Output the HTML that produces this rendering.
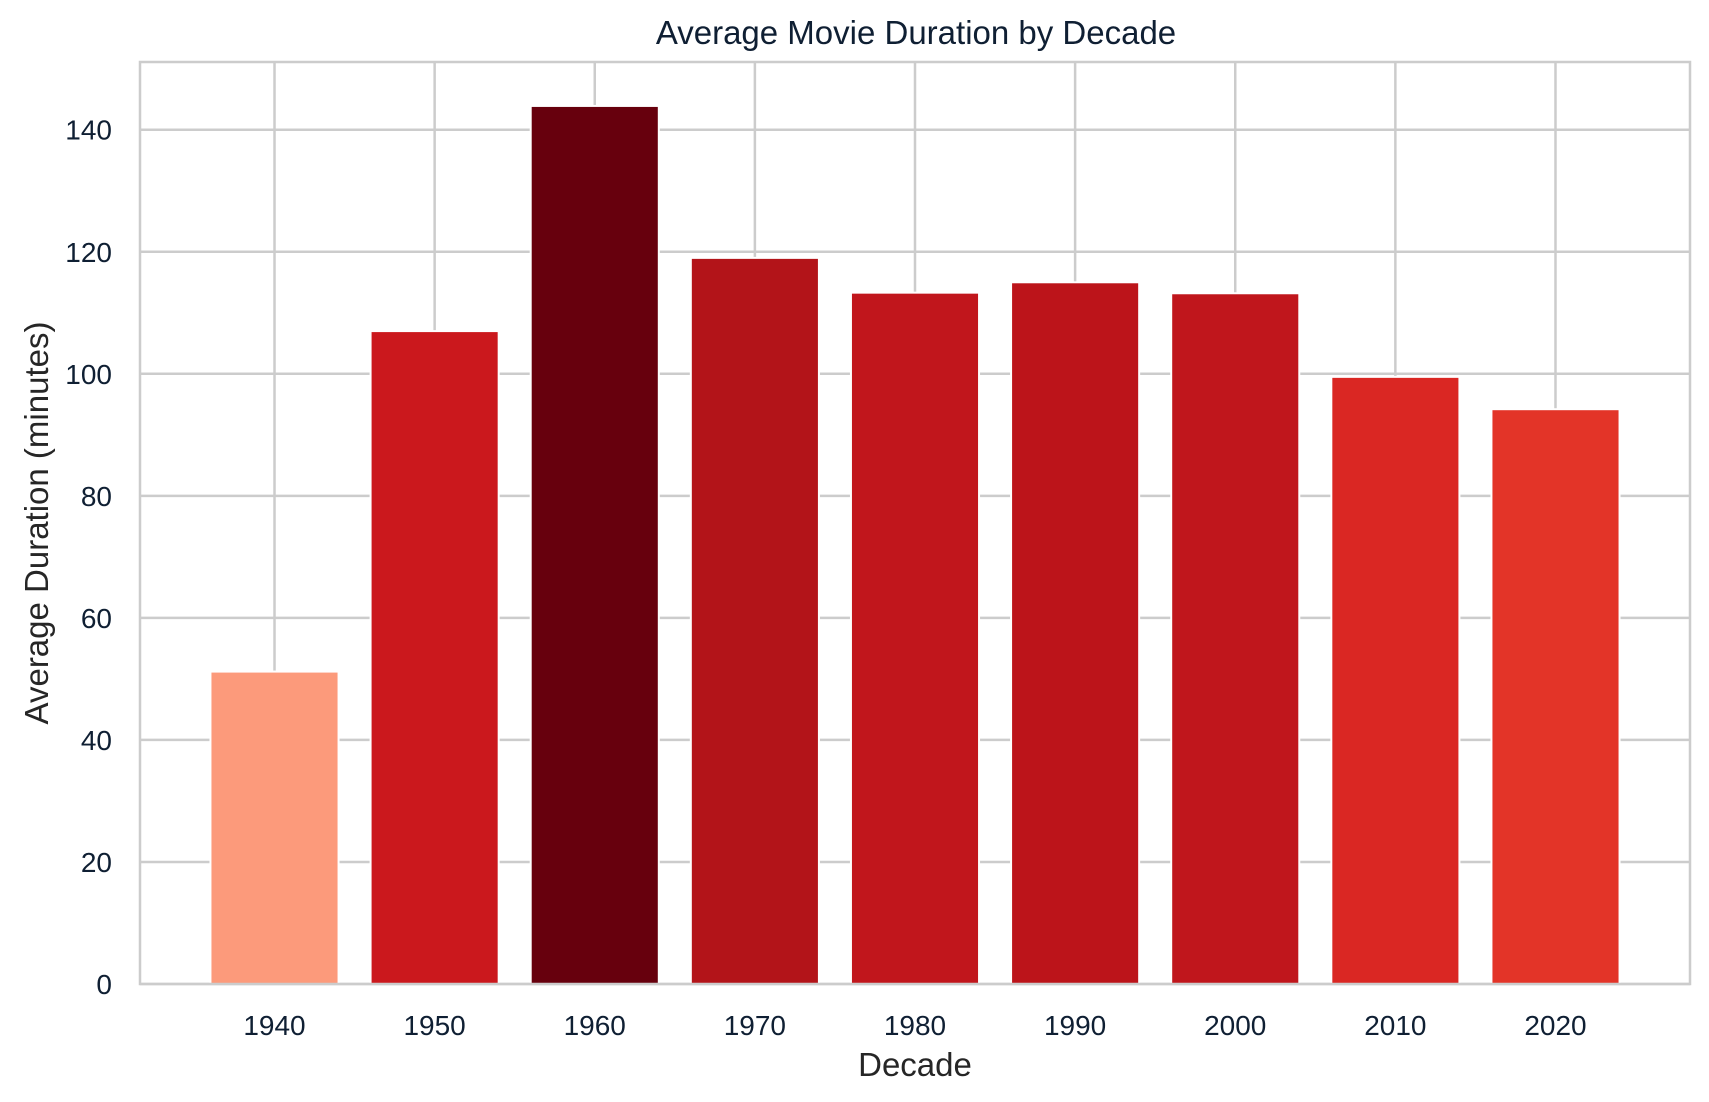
<!DOCTYPE html>
<html><head><meta charset="utf-8"><style>
html,body{margin:0;padding:0;background:#fff;}
svg{display:block;font-family:"Liberation Sans",Arial,sans-serif;}
</style></head><body>
<svg id="chart" width="1709" height="1102" viewBox="0 0 1709 1102">
<rect x="0" y="0" width="1709" height="1102" fill="#fff"/>
<g id="grid"></g><g id="bars"></g><g id="axes"></g>
<text x="916" y="44" text-anchor="middle" font-size="33" fill="#0f1f33">Average Movie Duration by Decade</text>
<text x="915" y="1076" text-anchor="middle" font-size="33" fill="#262626">Decade</text>
<text transform="translate(48,523) rotate(-90)" text-anchor="middle" font-size="33" fill="#262626">Average Duration (minutes)</text>
</svg>
<script>
const categories = ["1940","1950","1960","1970","1980","1990","2000","2010","2020"];
const durations = [51.2, 107, 143.9, 119, 113.3, 115, 113.2, 99.5, 94.2];
const barColors = ["#fc9a7b","#cb181d","#67000d","#b31419","#c1161c","#bc141a","#c0161c","#da2723","#e33428"];
const yTicks = [0,20,40,60,80,100,120,140];

const NS="http://www.w3.org/2000/svg";
const L=140,R=1690,T=62,B=984,yMax=151.1;
const n=categories.length, xMin=-0.84, xMax=n-1+0.84;
const xs=i=>L+(i-xMin)/(xMax-xMin)*(R-L);
const ys=v=>B-v/yMax*(B-T);
const step=xs(1)-xs(0), bw=step*0.8;
function mk(tag,attrs,parent){const e=document.createElementNS(NS,tag);for(const k in attrs)e.setAttribute(k,attrs[k]);parent.appendChild(e);return e;}
const grid=document.getElementById('grid'),bars=document.getElementById('bars'),axes=document.getElementById('axes');
yTicks.forEach(t=>{
  const g=mk('line',{x1:L,x2:R,y1:ys(t),y2:ys(t),stroke:'#cccccc','stroke-width':2.5},grid);
  
  
  const lb=mk('text',{x:L-28,y:ys(t)+10,'text-anchor':'end','font-size':28,fill:'#0f1f33'},axes);
  lb.textContent=t;
  
  
});
categories.forEach((c,i)=>{
  const g=mk('line',{x1:xs(i),x2:xs(i),y1:T,y2:B,stroke:'#cccccc','stroke-width':2.5},grid);
  
  
  const r=mk('rect',{x:xs(i)-bw/2,y:ys(durations[i]),width:bw,height:B-ys(durations[i]),fill:barColors[i],stroke:'#fff','stroke-width':2},bars);
  
  
  const lb=mk('text',{x:xs(i),y:1035,'text-anchor':'middle','font-size':28,fill:'#0f1f33'},axes);
  lb.textContent=c;
  
  
});
const fr=mk('rect',{x:L,y:T,width:R-L,height:B-T,fill:'none',stroke:'#cccccc','stroke-width':2.5},axes);


</script>
</body></html>
